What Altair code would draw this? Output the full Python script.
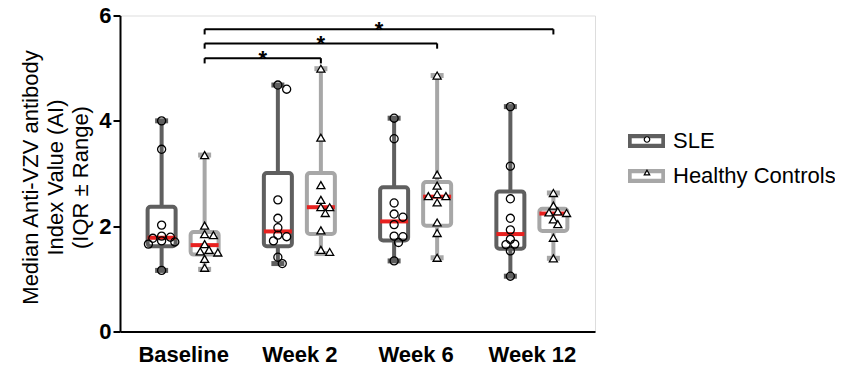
import altair as alt
import pandas as pd

# ---------------- data ----------------
weeks = ["Baseline", "Week 2", "Week 6", "Week 12"]
groups = ["SLE", "Healthy Controls"]

sle_points = [
    [4.00, 3.46, 2.02, 1.81, 1.79, 1.77, 1.72, 1.70, 1.66, 1.16],
    [4.68, 4.60, 2.50, 2.15, 1.97, 1.83, 1.80, 1.72, 1.41, 1.29],
    [4.05, 3.66, 2.44, 2.23, 2.17, 2.03, 1.81, 1.80, 1.69, 1.34],
    [4.27, 3.14, 2.52, 2.15, 1.93, 1.75, 1.66, 1.65, 1.53, 1.05],
]
hc_points = [
    [3.35, 2.01, 1.85, 1.83, 1.66, 1.55, 1.52, 1.50, 1.38, 1.21],
    [4.99, 3.68, 2.78, 2.50, 2.36, 2.36, 2.25, 1.92, 1.55, 1.51],
    [4.86, 2.98, 2.77, 2.61, 2.57, 2.57, 2.45, 2.07, 1.87, 1.40],
    [2.63, 2.39, 2.28, 2.26, 2.25, 2.13, 2.04, 1.78, 1.39],
]

sle_min = [1.16, 1.29, 1.34, 1.05]
sle_q1 = [1.62, 1.62, 1.73, 1.57]
sle_med = [1.78, 1.90, 2.09, 1.85]
sle_q3 = [2.37, 3.01, 2.74, 2.66]
sle_max = [4.00, 4.68, 4.05, 4.27]

hc_min = [1.18, 1.48, 1.40, 1.39]
hc_q1 = [1.46, 1.85, 2.01, 1.91]
hc_med = [1.64, 2.36, 2.56, 2.24]
hc_q3 = [1.89, 3.01, 2.84, 2.33]
hc_max = [3.35, 4.99, 4.86, 2.63]

# significance brackets (Healthy Controls: Baseline vs later weeks)
bracket_from = ["Baseline", "Baseline", "Baseline"]
bracket_to = ["Week 2", "Week 6", "Week 12"]
bracket_level = [5.19, 5.47, 5.74]
bracket_label = ["*", "*", "*"]

y_title = ["Median Anti-VZV antibody", "Index Value (AI)", "(IQR \u00b1 Range)"]

# ---------------- layout helpers ----------------
FONT = "Liberation Sans"
colors = ["#5f5f5f", "#a7a7a7"]
median_color = "#e8211f"
PX_PER_X = 119.0
PX_PER_Y = 52.75
GROUP_OFFSET = {"SLE": -0.185, "Healthy Controls": 0.185}


def swarm(vals, step=4.5, mind=6.5):
    placed, offs = [], []
    for v in vals:
        y = v * PX_PER_Y
        chosen = 0.0
        for k in [0, 1, -1, 2, -2, 3, -3]:
            x = k * step
            if all((x - px) ** 2 + (y - py) ** 2 >= mind ** 2 for px, py in placed):
                chosen = x
                break
        placed.append((chosen, y))
        offs.append(chosen / PX_PER_X)
    return offs


pt_rows = []
for g, series in (("SLE", sle_points), ("Healthy Controls", hc_points)):
    for wi, vals in enumerate(series):
        offs = swarm(vals)
        for v, o in zip(vals, offs):
            pt_rows.append({"week": weeks[wi], "group": g, "grp2": g,
                            "x": wi + GROUP_OFFSET[g] + o, "value": v})
pts_df = pd.DataFrame(pt_rows)

box_rows = []
for g, mn, q1, md, q3, mx in (("SLE", sle_min, sle_q1, sle_med, sle_q3, sle_max),
                              ("Healthy Controls", hc_min, hc_q1, hc_med, hc_q3, hc_max)):
    for wi in range(len(weeks)):
        box_rows.append({"week": weeks[wi], "group": g, "x": wi + GROUP_OFFSET[g],
                         "lo": mn[wi], "q1": q1[wi], "med": md[wi], "q3": q3[wi], "hi": mx[wi]})
box_df = pd.DataFrame(box_rows)

br_rows = []
for f, t, lv, lab in zip(bracket_from, bracket_to, bracket_level, bracket_label):
    x1 = weeks.index(f) + GROUP_OFFSET["Healthy Controls"]
    x2 = weeks.index(t) + GROUP_OFFSET["Healthy Controls"]
    br_rows.append({"x1": x1, "x2": x2, "xm": (x1 + x2) / 2, "y": lv, "ylow": lv - 0.1, "label": lab})
br_df = pd.DataFrame(br_rows)

label_expr = "[" + ",".join("'%s'" % w for w in weeks) + "][datum.value]"

x_scale = alt.Scale(domain=[-0.5, 3.5], nice=False, zero=False)
x_axis = alt.Axis(values=[0, 1, 2, 3], labelExpr=label_expr, title=None, ticks=False, grid=False,
                  labelFont=FONT, labelFontSize=22, labelFontWeight="bold", labelColor="black",
                  labelPadding=13, domainColor="black", domainWidth=2, labelFlush=False)
y_scale = alt.Scale(domain=[0, 6], nice=False, zero=True)
y_axis = alt.Axis(values=[0, 2, 4, 6], title=y_title, titleFont=FONT, titleFontSize=22,
                  titleFontWeight="normal", titleColor="black", titleLineHeight=25, titlePadding=6,
                  titleY=161.5,
                  labelFont=FONT, labelFontSize=22, labelFontWeight="bold", labelColor="black",
                  labelPadding=2, tickSize=7, tickWidth=2, tickColor="black",
                  domainColor="black", domainWidth=2, grid=False, format="d")


def X(f):
    return alt.X(f, type="quantitative", scale=x_scale, axis=x_axis)


def Y(f):
    return alt.Y(f, type="quantitative", scale=y_scale, axis=y_axis)


LEG_X, LEG_Y = 508, 107
ring = "M-1,-0.38H1V0.38H-1Z M-0.8,-0.15V0.15H0.8V-0.15Z"
stroke_legend = alt.Legend(title=None, orient="none", legendX=LEG_X, legendY=LEG_Y,
                           symbolType=ring, symbolSize=1369, symbolStrokeWidth=0,
                           labelFont=FONT, labelFontSize=22, labelColor="black", labelLimit=0,
                           labelOffset=8, rowPadding=5, padding=0)
stroke_enc = alt.Stroke("group:N", scale=alt.Scale(domain=groups, range=colors), legend=stroke_legend)

base = alt.Chart(box_df)
whisk = base.mark_rule(strokeWidth=4).encode(x=X("x"), y=Y("lo"), y2="hi:Q", stroke=stroke_enc)
cap_color = alt.Color("group:N", scale=alt.Scale(domain=groups, range=colors), legend=None)
cap_lo = base.mark_tick(orient="horizontal", size=13, thickness=5, opacity=1).encode(
    x=X("x"), y=Y("lo"), color=cap_color)
cap_hi = base.mark_tick(orient="horizontal", size=13, thickness=5, opacity=1).encode(
    x=X("x"), y=Y("hi"), color=cap_color)
box = base.mark_bar(width=28, fill="white", strokeWidth=4, cornerRadius=3, opacity=1).encode(
    x=X("x"), y=Y("q1"), y2="q3:Q", stroke=stroke_enc)
med = base.mark_tick(orient="horizontal", size=28, thickness=4, color=median_color, opacity=1).encode(
    x=X("x"), y=Y("med"))

shape_legend = alt.Legend(title=None, orient="none", legendX=LEG_X + 8, legendY=LEG_Y + 6,
                          symbolSize=30, symbolStrokeColor="black", symbolStrokeWidth=1.2,
                          symbolFillColor="white", labelFont=FONT, labelFontSize=22,
                          labelExpr="''", rowPadding=11, padding=0)
pts = alt.Chart(pts_df).mark_point(filled=True, stroke="black", strokeWidth=1.3, size=65, opacity=1).encode(
    x=X("x"), y=Y("value"),
    shape=alt.Shape("grp2:N", sort=groups, scale=alt.Scale(range=["circle", "triangle-up"]), legend=shape_legend),
    fill=alt.Fill("group:N", scale=alt.Scale(domain=groups, range=["transparent", "white"]), legend=None),
)

bbase = alt.Chart(br_df)
br_h = bbase.mark_rule(strokeWidth=2, color="black").encode(x=X("x1"), x2="x2:Q", y=Y("y"))
br_l = bbase.mark_rule(strokeWidth=2, color="black").encode(x=X("x1"), y=Y("y"), y2="ylow:Q")
br_r = bbase.mark_rule(strokeWidth=2, color="black").encode(x=X("x2"), y=Y("y"), y2="ylow:Q")
stars = bbase.mark_text(font=FONT, fontSize=22, fontWeight="bold", color="black",
                        baseline="alphabetic", dy=8).encode(x=X("xm"), y=Y("y"), text="label:N")

chart = alt.layer(whisk, cap_lo, cap_hi, box, med, pts, br_h, br_l, br_r, stars).properties(
    width=475, height=316,
    autosize=alt.AutoSizeParams(type="none"),
    padding={"left": 112, "top": 7.5, "right": 240, "bottom": 34.5},
).configure_view(stroke=None).configure(font=FONT)

chart.save("out.html", embed_options={"renderer": "svg", "actions": False})
